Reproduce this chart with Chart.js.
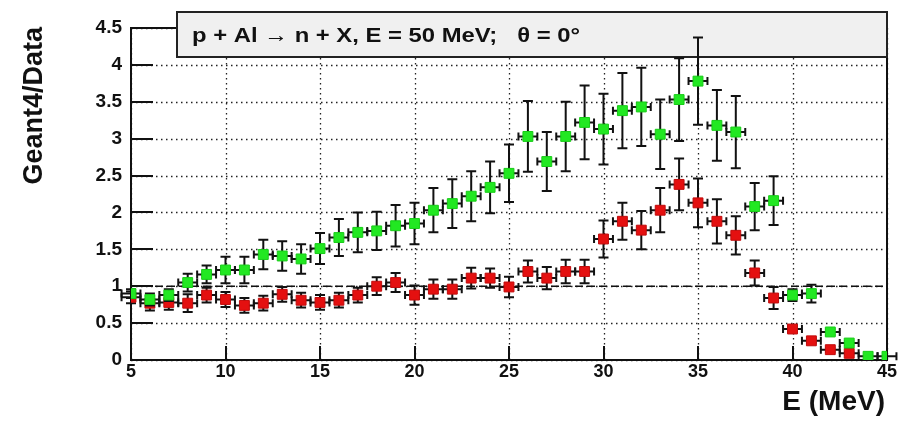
<!DOCTYPE html>
<html>
<head>
<meta charset="utf-8">
<script src="https://cdn.jsdelivr.net/npm/chart.js@4/dist/chart.umd.min.js"></script>
<style>
  html, body { margin: 0; padding: 0; background: #fff; }
  #wrap { width: 905px; height: 426px; }
</style>
</head>
<body>
<div id="wrap"><canvas id="ratioChart" width="905" height="426"></canvas></div>
<script>
// neutron energy bins (MeV), 1 MeV wide
const energies = [5, 6, 7, 8, 9, 10, 11, 12, 13, 14, 15, 16, 17, 18, 19, 20, 21, 22, 23, 24, 25,
  26, 27, 28, 29, 30, 31, 32, 33, 34, 35, 36, 37, 38, 39, 40, 41, 42, 43, 44, 45];

// Geant4/Data ratio, green series
const greenRatio = [0.90, 0.82, 0.88, 1.05, 1.16, 1.22, 1.22, 1.43, 1.41, 1.37, 1.51, 1.66, 1.73, 1.75,
  1.82, 1.85, 2.03, 2.12, 2.22, 2.34, 2.53, 3.03, 2.69, 3.03, 3.22, 3.13, 3.38, 3.43, 3.06, 3.53,
  3.78, 3.18, 3.09, 2.08, 2.16, 0.88, 0.90, 0.38, 0.23, 0.05, 0.05];
const greenErr = [0.06, 0.08, 0.08, 0.12, 0.12, 0.18, 0.18, 0.20, 0.20, 0.20, 0.21, 0.25, 0.27, 0.26,
  0.28, 0.28, 0.30, 0.33, 0.34, 0.35, 0.39, 0.48, 0.40, 0.47, 0.50, 0.48, 0.51, 0.53, 0.47, 0.56,
  0.59, 0.48, 0.49, 0.32, 0.33, 0.08, 0.12, 0.04, 0.03, 0, 0];

// red series, stops at 43 MeV
const redRatio = [0.85, 0.77, 0.78, 0.77, 0.88, 0.82, 0.74, 0.77, 0.89, 0.81, 0.78, 0.81, 0.88, 1.00,
  1.05, 0.88, 0.96, 0.96, 1.11, 1.11, 0.99, 1.20, 1.11, 1.20, 1.20, 1.64, 1.88, 1.76, 2.03, 2.38,
  2.13, 1.88, 1.69, 1.18, 0.84, 0.42, 0.26, 0.14, 0.09];
const redErr = [0.08, 0.10, 0.10, 0.12, 0.10, 0.10, 0.10, 0.10, 0.10, 0.10, 0.10, 0.10, 0.10, 0.12,
  0.13, 0.13, 0.13, 0.13, 0.14, 0.13, 0.14, 0.15, 0.15, 0.16, 0.16, 0.25, 0.25, 0.26, 0.30, 0.35,
  0.33, 0.30, 0.26, 0.17, 0.15, 0.04, 0.03, 0.03, 0.02];

const binHalfWidth = 0.5;
const xTicks = [5, 10, 15, 20, 25, 30, 35, 40, 45];
const yTicks = [0, 0.5, 1, 1.5, 2, 2.5, 3, 3.5, 4, 4.5];
const unityLine = [{ x: 5, y: 1 }, { x: 45, y: 1 }];

const titleText = "p + Al \u2192 n + X, E = 50 MeV;   \u03b8 = 0\u00b0";
const FONT = "'Liberation Sans', Arial, Helvetica, sans-serif";

function toPoints(vals) {
  return vals.map((v, i) => ({ x: energies[i], y: v }));
}

// error bars with end caps, drawn under each dataset's markers
const errorBars = {
  id: "errorBars",
  beforeDatasetDraw(chart, args) {
    const ds = chart.data.datasets[args.index];
    if (!ds.yErrors) return;
    const xs = chart.scales.x, ys = chart.scales.y;
    const ctx = chart.ctx;
    ctx.save();
    ctx.strokeStyle = "#111";
    ctx.lineWidth = 2;
    ds.data.forEach((p, i) => {
      const px = xs.getPixelForValue(p.x);
      const py = ys.getPixelForValue(p.y);
      const xl = xs.getPixelForValue(p.x - binHalfWidth);
      const xr = xs.getPixelForValue(p.x + binHalfWidth);
      ctx.beginPath();
      ctx.moveTo(xl, py); ctx.lineTo(xr, py);
      ctx.moveTo(xl, py - 4); ctx.lineTo(xl, py + 4);
      ctx.moveTo(xr, py - 4); ctx.lineTo(xr, py + 4);
      const e = ds.yErrors[i];
      if (e > 0) {
        const yt = ys.getPixelForValue(p.y + e);
        const yb = ys.getPixelForValue(Math.max(p.y - e, 0));
        ctx.moveTo(px, yt); ctx.lineTo(px, yb);
        ctx.moveTo(px - 5, yt); ctx.lineTo(px + 5, yt);
        ctx.moveTo(px - 5, yb); ctx.lineTo(px + 5, yb);
      }
      ctx.stroke();
    });
    ctx.restore();
  }
};

// dotted grid, inward ticks, frame, title pave and axis titles
const frameDecor = {
  id: "frameDecor",
  beforeDatasetsDraw(chart) {
    const { ctx, chartArea: a } = chart;
    const xs = chart.scales.x, ys = chart.scales.y;
    ctx.save();
    ctx.strokeStyle = "#222";
    ctx.lineWidth = 1.3;
    ctx.setLineDash([1.5, 3.5]);
    xTicks.forEach(v => {
      const px = Math.round(xs.getPixelForValue(v)) + 0.5;
      ctx.beginPath(); ctx.moveTo(px, a.top); ctx.lineTo(px, a.bottom); ctx.stroke();
    });
    yTicks.forEach(v => {
      const py = Math.round(ys.getPixelForValue(v)) + 0.5;
      ctx.beginPath(); ctx.moveTo(a.left, py); ctx.lineTo(a.right, py); ctx.stroke();
    });
    ctx.setLineDash([]);
    ctx.lineWidth = 2;
    ctx.strokeStyle = "#111";
    yTicks.forEach(v => {
      const py = Math.round(ys.getPixelForValue(v));
      ctx.beginPath(); ctx.moveTo(a.left, py); ctx.lineTo(a.left + 22, py); ctx.stroke();
    });
    xTicks.forEach(v => {
      const px = Math.round(xs.getPixelForValue(v));
      ctx.beginPath(); ctx.moveTo(px, a.bottom); ctx.lineTo(px, a.bottom - 14); ctx.stroke();
    });
    ctx.strokeRect(a.left, a.top, a.right - a.left, a.bottom - a.top);

    // title pave sits over the frame top, under the data
    ctx.fillStyle = "#f0f0f0";
    ctx.fillRect(177, 12, a.right - 177, 45);
    ctx.strokeStyle = "#222";
    ctx.lineWidth = 2;
    ctx.strokeRect(177, 12, a.right - 177, 45);
    ctx.fillStyle = "#111";
    ctx.font = "bold 21px " + FONT;
    ctx.textBaseline = "alphabetic";
    ctx.textAlign = "left";
    const w = ctx.measureText(titleText).width;
    ctx.translate(192, 42);
    ctx.scale(388 / w, 1);
    ctx.fillText(titleText, 0, 0);
    ctx.restore();
  },
  afterDraw(chart) {
    const { ctx, chartArea: a } = chart;
    ctx.save();
    ctx.fillStyle = "#111";
    ctx.font = "bold 28px " + FONT;
    ctx.textAlign = "right";
    ctx.textBaseline = "alphabetic";
    ctx.fillText("E (MeV)", a.right - 2, 410);
    ctx.font = "bold 27px " + FONT;
    ctx.translate(42, 27);
    ctx.rotate(-Math.PI / 2);
    ctx.fillText("Geant4/Data", 0, 0);
    ctx.restore();
  }
};

const ctx = document.getElementById("ratioChart").getContext("2d");
new Chart(ctx, {
  type: "scatter",
  data: {
    datasets: [
      {
        label: "green",
        data: toPoints(greenRatio),
        yErrors: greenErr,
        pointStyle: "rect",
        pointRadius: 7,
        backgroundColor: "#22e822",
        borderColor: "#18cc18",
        borderWidth: 1,
        order: 1
      },
      {
        label: "red",
        data: toPoints(redRatio),
        yErrors: redErr,
        pointStyle: "rect",
        pointRadius: 7,
        backgroundColor: "#e41010",
        borderColor: "#c00c0c",
        borderWidth: 1,
        order: 2
      },
      {
        label: "unity",
        type: "line",
        data: unityLine,
        borderColor: "#111",
        borderWidth: 1.5,
        borderDash: [8, 4],
        pointRadius: 0,
        order: 3
      }
    ]
  },
  plugins: [errorBars, frameDecor],
  options: {
    responsive: false,
    animation: false,
    layout: { padding: { top: 28, right: 18, left: 0, bottom: 0 } },
    plugins: {
      legend: { display: false },
      tooltip: { enabled: false }
    },
    scales: {
      x: {
        type: "linear",
        min: 5, max: 45,
        afterBuildTicks(scale) { scale.ticks = xTicks.map(v => ({ value: v })); },
        afterFit(scale) { scale.height = 66; },
        grid: { display: false, drawTicks: false, tickLength: 0 },
        border: { display: false },
        ticks: {
          padding: 1,
          color: "#111",
          maxRotation: 0,
          font: { family: FONT, size: 18, weight: "bold" }
        }
      },
      y: {
        type: "linear",
        min: 0, max: 4.5,
        afterBuildTicks(scale) { scale.ticks = yTicks.map(v => ({ value: v })); },
        afterFit(scale) { scale.width = 131; },
        grid: { display: false, drawTicks: false, tickLength: 0 },
        border: { display: false },
        ticks: {
          padding: 9,
          color: "#111",
          callback: v => String(v),
          font: { family: FONT, size: 19, weight: "bold" }
        }
      }
    }
  }
});
</script>
</body>
</html>
